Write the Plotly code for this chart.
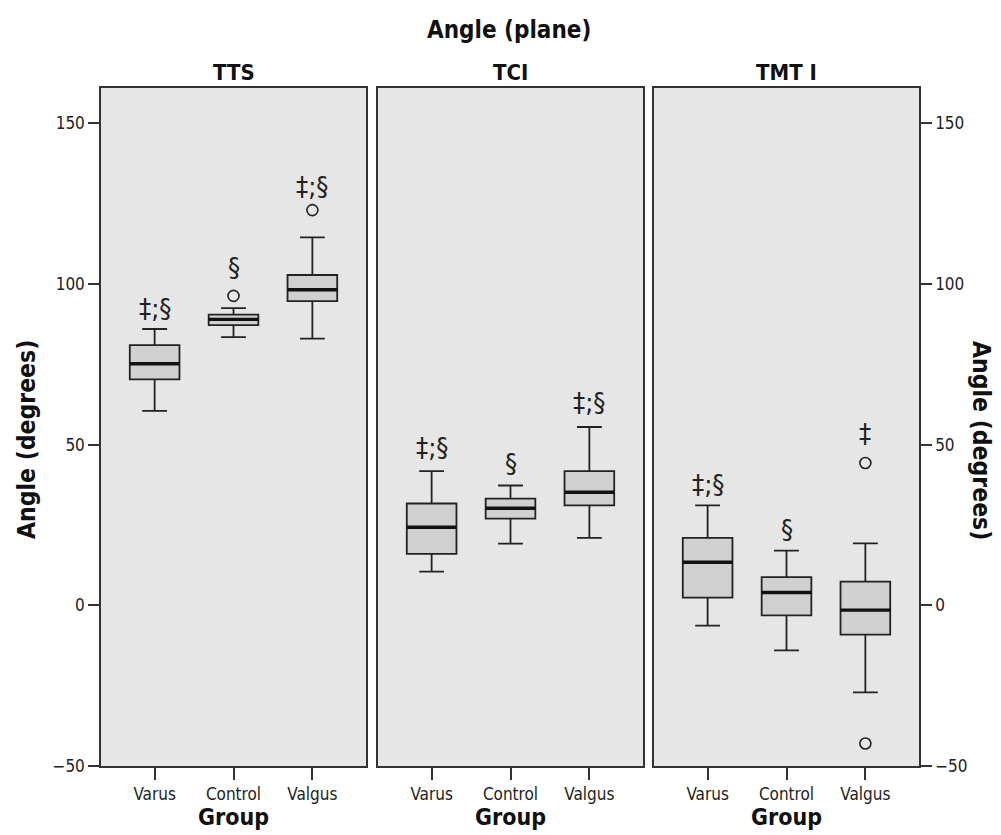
import plotly.graph_objects as go

groups = ["Varus", "Control", "Valgus"]
panels = ["TTS", "TCI", "TMT I"]

# box statistics per panel: lower whisker, Q1, median, Q3, upper whisker
tts_low = [60.5, 83.5, 83.0]
tts_q1 = [70.3, 87.2, 94.7]
tts_med = [75.2, 89.0, 98.2]
tts_q3 = [81.0, 90.5, 102.8]
tts_up = [86.0, 92.5, 114.5]

tci_low = [10.5, 19.2, 21.0]
tci_q1 = [16.0, 27.0, 31.1]
tci_med = [24.3, 30.2, 35.2]
tci_q3 = [31.7, 33.2, 41.8]
tci_up = [41.8, 37.3, 55.5]

tmt_low = [-6.3, -14.0, -27.1]
tmt_q1 = [2.4, -3.1, -9.1]
tmt_med = [13.4, 4.0, -1.5]
tmt_q3 = [21.0, 8.8, 7.4]
tmt_up = [31.1, 17.0, 19.3]

# outliers
tts_out_x = ["Control", "Valgus"]
tts_out_y = [96.3, 123.0]
tci_out_x = []
tci_out_y = []
tmt_out_x = ["Valgus", "Valgus"]
tmt_out_y = [44.3, -43.0]

# significance labels
tts_sig = ["‡;§", "§", "‡;§"]
tts_sig_y = [92.5, 105.0, 130.5]
tci_sig = ["‡;§", "§", "‡;§"]
tci_sig_y = [49.0, 44.0, 63.0]
tmt_sig = ["‡;§", "§", "‡"]
tmt_sig_y = [37.5, 23.5, 53.5]

y_ticks = [-50, 0, 50, 100, 150]

data = [
    (tts_low, tts_q1, tts_med, tts_q3, tts_up, tts_out_x, tts_out_y, tts_sig, tts_sig_y),
    (tci_low, tci_q1, tci_med, tci_q3, tci_up, tci_out_x, tci_out_y, tci_sig, tci_sig_y),
    (tmt_low, tmt_q1, tmt_med, tmt_q3, tmt_up, tmt_out_x, tmt_out_y, tmt_sig, tmt_sig_y),
]

FONT = "DejaVu Sans Condensed, DejaVu Sans, sans-serif"
W, H = 1001, 835
OFF = 8      # page body margin
VS = 0.988   # observed vertical scale of the screenshot


def fy(s):
    """screen y pixel -> figure pixel"""
    return (s - OFF) / VS


def py(s):
    return 1 - fy(s) / H


def px(s):
    return (s - OFF) / W


x_domains = [(101, 366), (378, 643), (654, 919)]
y_dom = [py(766), py(88)]
BOXW = 0.63
XR = [-0.68, 2.68]

fig = go.Figure()
annotations = []
for i, (low, q1, med, q3, up, ox, oy, sig, sig_y) in enumerate(data):
    n = i + 1
    xa = "x" if n == 1 else f"x{n}"
    ya = "y" if n == 1 else f"y{n}"
    fig.add_trace(go.Box(
        x=groups, q1=q1, median=med, q3=q3, lowerfence=low, upperfence=up,
        xaxis=xa, yaxis=ya, width=BOXW, whiskerwidth=0.5,
        fillcolor="#d0d0d0", line=dict(color="#222222", width=1.8),
        boxpoints=False, showlegend=False, hoverinfo="skip",
    ))
    px_per_unit = (x_domains[i][1] - x_domains[i][0]) / (XR[1] - XR[0])
    fig.add_trace(go.Scatter(
        x=groups, y=med, xaxis=xa, yaxis=ya, mode="markers",
        marker=dict(symbol="line-ew", size=BOXW * px_per_unit / 1.4,
                    line=dict(color="#111111", width=3.4)),
        showlegend=False, hoverinfo="skip",
    ))
    if ox:
        fig.add_trace(go.Scatter(
            x=ox, y=oy, xaxis=xa, yaxis=ya, mode="markers",
            marker=dict(symbol="circle-open", size=11,
                        line=dict(color="#222222", width=1.6), color="#222222"),
            showlegend=False, hoverinfo="skip",
        ))
    for g, s, sy in zip(groups, sig, sig_y):
        annotations.append(dict(x=g, y=sy, xref=xa, yref=ya, text=s,
                                showarrow=False, yanchor="middle",
                                font=dict(size=27, color="#222", family=FONT)))
    xc = px((x_domains[i][0] + x_domains[i][1]) / 2)
    annotations.append(dict(x=xc, y=py(72), xref="paper", yref="paper",
                            text=f"<b>{panels[i]}</b>", showarrow=False,
                            xanchor="center", yanchor="middle",
                            font=dict(size=22, color="#111", family=FONT)))
    annotations.append(dict(x=xc, y=py(817), xref="paper", yref="paper",
                            text="<b>Group</b>", showarrow=False,
                            xanchor="center", yanchor="middle",
                            font=dict(size=23, color="#111", family=FONT)))

annotations.append(dict(x=px(509), y=py(30), xref="paper", yref="paper",
                        text="<b>Angle (plane)</b>", showarrow=False,
                        xanchor="center", yanchor="middle",
                        font=dict(size=24, color="#111", family=FONT)))
annotations.append(dict(x=px(26), y=py(440), xref="paper", yref="paper",
                        text="<b>Angle (degrees)</b>", showarrow=False, textangle=-90,
                        xanchor="center", yanchor="middle",
                        font=dict(size=24.5, color="#111", family=FONT)))
annotations.append(dict(x=px(982), y=py(440), xref="paper", yref="paper",
                        text="<b>Angle (degrees)</b>", showarrow=False, textangle=90,
                        xanchor="center", yanchor="middle",
                        font=dict(size=24.5, color="#111", family=FONT)))

layout = dict(
    width=W, height=H, margin=dict(l=0, r=0, t=0, b=0),
    paper_bgcolor="white", plot_bgcolor="#e6e6e6",
    annotations=annotations, showlegend=False,
    font=dict(family=FONT, color="#222", size=17),
)
for i in range(3):
    n = i + 1
    xk = "xaxis" if n == 1 else f"xaxis{n}"
    yk = "yaxis" if n == 1 else f"yaxis{n}"
    xa = "x" if n == 1 else f"x{n}"
    layout[xk] = dict(
        domain=[px(x_domains[i][0]), px(x_domains[i][1])], anchor="y" if n == 1 else f"y{n}",
        type="category", categoryorder="array", categoryarray=groups, range=XR,
        showline=True, mirror=True, linecolor="#333", linewidth=1.5,
        ticks="outside", ticklen=12, tickcolor="#333", tickwidth=1.5,
        showgrid=False, zeroline=False, tickfont=dict(size=17, color="#222"),
    )
    yd = dict(
        domain=y_dom, anchor=xa, range=[-50, 161], tickvals=y_ticks,
        showline=True, mirror=True, linecolor="#333", linewidth=1.5,
        showgrid=False, zeroline=False, tickfont=dict(size=17, color="#222"),
    )
    if n == 1:
        yd.update(ticks="outside", ticklen=11, tickcolor="#333", tickwidth=1.5, side="left")
    elif n == 3:
        yd.update(ticks="outside", ticklen=11, tickcolor="#333", tickwidth=1.5, side="right")
    else:
        yd.update(showticklabels=False, ticks="")
    layout[yk] = yd

fig.update_layout(**layout)
fig.write_html("out.html")
